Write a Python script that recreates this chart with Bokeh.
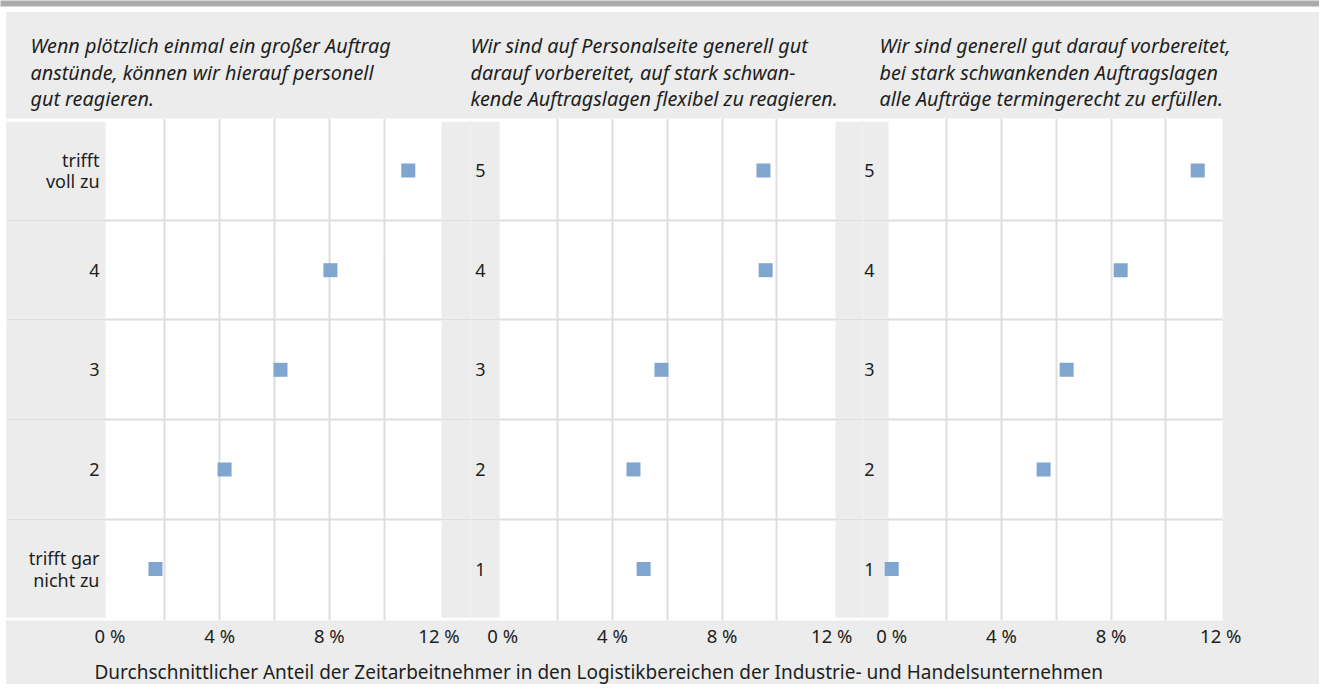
from bokeh.plotting import figure
from bokeh.layouts import row, column
from bokeh.models import Range1d, FixedTicker, PrintfTickFormatter, Title, Label
from bokeh.embed import file_html
from bokeh.resources import INLINE
from bokeh.core.properties import value

# ---------------- data ----------------
levels = [1, 2, 3, 4, 5]
labels_p1 = ["trifft gar\nnicht zu", "2", "3", "4", "trifft\nvoll zu"]
labels_num = ["1", "2", "3", "4", "5"]

title_p1 = ["Wenn plötzlich einmal ein großer Auftrag",
            "anstünde, können wir hierauf personell",
            "gut reagieren."]
title_p2 = ["Wir sind auf Personalseite generell gut",
            "darauf vorbereitet, auf stark schwan-",
            "kende Auftragslagen flexibel zu reagieren."]
title_p3 = ["Wir sind generell gut darauf vorbereitet,",
            "bei stark schwankenden Auftragslagen",
            "alle Aufträge termingerecht zu erfüllen."]

share_p1 = [1.66, 4.18, 6.22, 8.04, 10.88]
share_p2 = [5.14, 4.77, 5.79, 9.59, 9.51]
share_p3 = [0.0, 5.54, 6.38, 8.35, 11.16]

x_ticks = [0, 4, 8, 12]
grid_ticks = [2, 4, 6, 8, 10]
axis_title = ("Durchschnittlicher Anteil der Zeitarbeitnehmer in den "
              "Logistikbereichen der Industrie- und Handelsunternehmen")

# ---------------- style ----------------
FONT = "Noto Sans"
BG = "#EBECEB"
BAR = "#ABACAE"
MARK = "#80A6CF"
GRID = "#DEDEDE"
TXT = "#1E1E1E"
PX = 27.42            # pixels per percent point
LEFT_PAD = 6

ROW_H = 638
TOP_B = 106
BOT_B = 28
Y_RANGE = (0.483, 5.523)
TOTAL_W = 1319


def make_panel(fig_left, frame_right, border_right, zero_px, left_box_end,
               right_box_start, label_right, title_lines, title_offset,
               labels, shares):
    width = frame_right - fig_left + border_right

    def v(px):
        return (px - zero_px) / PX

    x0, x1 = v(fig_left), v(frame_right)
    p = figure(width=width, height=ROW_H, output_backend="svg",
               toolbar_location=None, x_range=Range1d(x0, x1),
               y_range=Range1d(*Y_RANGE), y_axis_location=None,
               min_border_left=0, min_border_right=border_right,
               min_border_top=TOP_B, min_border_bottom=BOT_B)
    p.background_fill_color = "white"
    p.border_fill_color = BG
    p.outline_line_color = None

    # grid
    p.xgrid.ticker = FixedTicker(ticks=grid_ticks)
    p.ygrid.ticker = FixedTicker(ticks=[1.5, 2.5, 3.5, 4.5])
    for g in (p.xgrid, p.ygrid):
        g.grid_line_color = GRID
        g.grid_line_width = 2

    # grey category-label boxes
    tops = [l + 0.49 for l in levels]
    bots = [l - 0.49 for l in levels]
    p.quad(left=x0, right=v(left_box_end), top=tops, bottom=bots,
           fill_color=BG, line_color=None)
    if right_box_start is not None:
        p.quad(left=v(right_box_start), right=x1, top=tops, bottom=bots,
               fill_color=BG, line_color=None)

    p.text(x=[v(label_right)] * len(levels), y=levels, text=labels,
           text_align="right", text_baseline="middle",
           text_font=value(FONT), text_font_size="18px", text_color=TXT,
           text_line_height=0.9)

    p.scatter(x=shares, y=levels, marker="square", size=14,
              fill_color=MARK, line_color=None)

    # x axis
    ax = p.xaxis[0]
    ax.ticker = FixedTicker(ticks=x_ticks)
    ax.formatter = PrintfTickFormatter(format="%d %%")
    ax.axis_line_color = None
    ax.major_tick_line_color = None
    ax.minor_tick_line_color = None
    ax.major_tick_in = 0
    ax.major_tick_out = 0
    ax.minor_tick_in = 0
    ax.minor_tick_out = 0
    ax.major_label_text_font = FONT
    ax.major_label_text_font_size = "18.5px"
    ax.major_label_text_color = TXT
    ax.major_label_standoff = 2

    # title
    t = Title(text="\n".join(title_lines), align="left", offset=title_offset,
              text_font=FONT, text_font_style="italic",
              text_font_size="19.8px", text_color=TXT, text_line_height=0.98,
              standoff=13)
    p.title = t
    return p


f1 = make_panel(6, 470, 0, 109.45, 105, 441, 99, title_p1, 24,
                labels_p1, share_p1)
f2 = make_panel(470, 862, 0, 502.2, 499, 835, 485, title_p2, 0,
                labels_num, share_p2)
f3 = make_panel(862, 1222, TOTAL_W - 1222, 891.2, 888, None, 874, title_p3,
                17, labels_num, share_p3)

# top bar (grey band above a thin white gap)
bar = figure(width=TOTAL_W, height=12, output_backend="svg", title=None,
             toolbar_location=None, x_axis_location=None,
             y_axis_location=None, min_border_top=0, min_border_left=0,
             min_border_right=0, min_border_bottom=6,
             x_range=Range1d(0, 1), y_range=Range1d(0, 1))
bar.background_fill_color = BAR
bar.border_fill_color = "white"
bar.outline_line_color = None
bar.grid.visible = False

# bottom strip with the axis caption
BOT_H = 34
bot = figure(width=TOTAL_W - LEFT_PAD, height=BOT_H, output_backend="svg",
             title=None, toolbar_location=None, x_axis_location=None,
             y_axis_location=None, min_border=0,
             x_range=Range1d(LEFT_PAD, TOTAL_W), y_range=Range1d(0, BOT_H))
bot.background_fill_color = BG
bot.border_fill_color = BG
bot.outline_line_color = None
bot.grid.visible = False
bot.add_layout(Label(x=94, y=13, text=axis_title,
                     text_font=FONT, text_font_size="19px",
                     text_color=TXT, text_baseline="middle"))

panels = row(f1, f2, f3, styles={"background-color": BG})
inner = column(panels, bot, margin=(0, 0, 0, LEFT_PAD),
               styles={"background-color": BG})
layout = column(bar, inner)

open("out.html", "w").write(file_html(layout, INLINE))
